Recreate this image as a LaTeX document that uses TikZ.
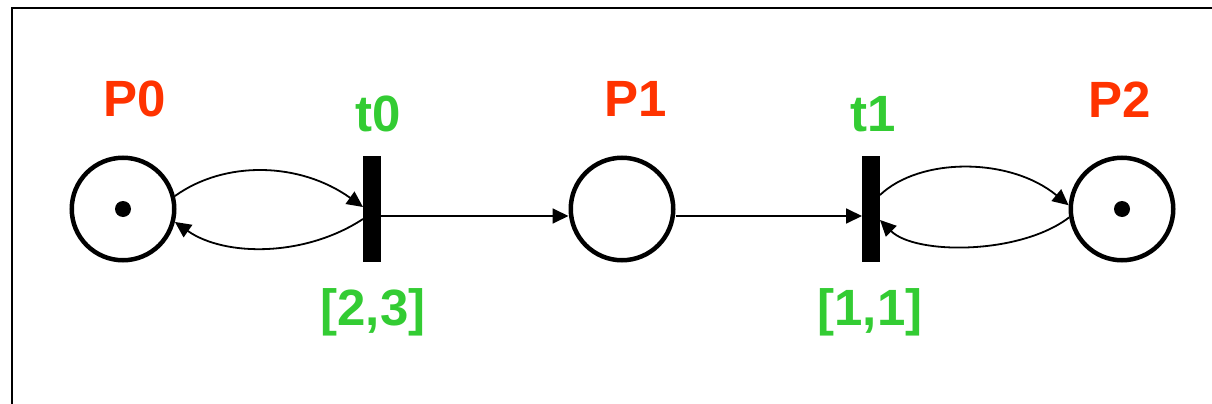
\documentclass[tikz,border=0pt]{standalone}
\usepackage{fontspec}
\setmainfont{Liberation Sans}
\usetikzlibrary{arrows.meta}
\definecolor{pred}{HTML}{FF3300}
\definecolor{tgreen}{HTML}{33CC33}
\tikzset{
  place/.style={circle, draw=black, line width=4.5pt, minimum size=102.5pt, inner sep=0pt},
  trans/.style={rectangle, fill=black, minimum width=18pt, minimum height=106pt, inner sep=0pt, outer sep=0pt},
  token/.style={circle, fill=black, minimum size=16pt, inner sep=0pt},
  plabel/.style={anchor=base, text=pred, font=\fontsize{51}{60}\selectfont\bfseries, inner sep=0pt},
  tlabel/.style={anchor=base, text=tgreen, font=\fontsize{51}{60}\selectfont\bfseries, inner sep=0pt},
  arc/.style={line width=1.8pt, -{Triangle[length=16pt, width=15pt]}},
  frameline/.style={line width=2pt}
}
\begin{document}
\begin{tikzpicture}[x=1pt,y=1pt]
\useasboundingbox (0,0) rectangle (1212,-404);
\draw[frameline] (12,-404) -- (12,-8.5) -- (1212,-8.5);
% places
\node[place] (P0) at (123,-209) {};
\node[place] (P1) at (622,-209) {};
\node[place] (P2) at (1122,-209) {};
\node[token] (k0) at (P0) {};
\node[token] (k2) at (P2) {};
% transitions
\node[trans] (t0) at (372,-209) {};
\node[trans] (t1) at (871,-209) {};
% labels
\node[plabel] (lP0) at (135,-116) {P0};
\node[plabel] (lP1) at (636,-116) {P1};
\node[plabel] (lP2) at (1120,-117) {P2};
\node[tlabel] (lt0) at (378,-131) {t0};
\node[tlabel] (lt1) at (873,-131) {t1};
\node[tlabel] (lI0) at (373,-325) {[2,3]};
\node[tlabel] (lI1) at (870,-325) {[1,1]};
% arcs
\draw[arc] (P0.14) .. controls (225,-160) and (300,-162) .. ([yshift=2pt]t0.west);
\draw[arc] ([yshift=-10pt]t0.west) .. controls (305,-257) and (225,-257) .. (P0.-14);
\draw[arc] ([yshift=-7pt]t0.east) -- ([yshift=-7pt]P1.west);
\draw[arc] ([yshift=-7pt]P1.east) -- ([yshift=-7pt]t1.west);
\draw[arc] ([yshift=14pt]t1.east) .. controls (920,-157) and (1010,-157) .. (P2.176);
\draw[arc] (P2.189) .. controls (1020,-255) and (915,-255) .. ([yshift=-11pt]t1.east);
\end{tikzpicture}
\end{document}
